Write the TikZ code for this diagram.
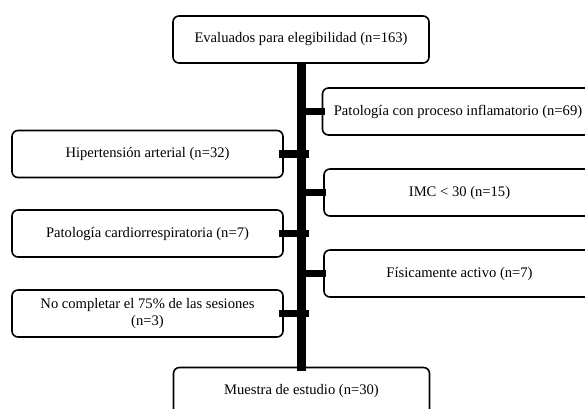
\documentclass[tikz,border=0pt]{standalone}
\usepackage{fontspec}
\setmainfont{Liberation Serif}
\usetikzlibrary{positioning}

\begin{document}
\begin{tikzpicture}[
  x=1pt, y=-1pt,
  box/.style={rectangle, draw, rounded corners=6pt, line width=1.6pt, fill=white, minimum width=271pt, minimum height=47pt, font=\fontsize{14.6}{16.5}\selectfont, align=center, inner sep=2pt},
  endbox/.style={box, minimum width=256pt},
  stub/.style={line width=7.5pt},
  spinebar/.style={line width=9pt}
]
\clip (0,0) rectangle (585,408);

% Start and end
\node[endbox] (eval) at (301,39.5) {Evaluados para elegibilidad (n=163)};
\node[endbox] (muestra) at (301.5,391) {Muestra de estudio (n=30)};
\coordinate (spine) at (301.5,0);
\coordinate (spineend) at (301.5,371);

% Exclusions (right)
\node[box] (inflam) at (458,111.5) {Patología con proceso inflamatorio (n=69)};
\node[box] (imc) at (459.5,192.5) {IMC < 30 (n=15)};
\node[box] (activo) at (459.5,273.5) {Físicamente activo (n=7)};

% Exclusions (left)
\node[box] (hta) at (147.5,154) {Hipertensión arterial (n=32)};
\node[box] (cardio) at (147.5,233.5) {Patología cardiorrespiratoria (n=7)};
\node[box] (sesiones) at (147.5,313.5) {No completar el 75\% de las sesiones\\(n=3)};

% Edges
\draw[spinebar] (eval.south -| spine) -- (spineend);

\draw[stub] ([xshift=-3.5pt]inflam.west -| spine) -- ([xshift=3pt]inflam.west);
\draw[stub] ([xshift=-3.5pt]imc.west -| spine) -- ([xshift=3pt]imc.west);
\draw[stub] ([xshift=-3.5pt]activo.west -| spine) -- ([xshift=3pt]activo.west);

\draw[stub] ([xshift=-5pt]hta.east) -- ([xshift=7.5pt]hta.east -| spine);
\draw[stub] ([xshift=-5pt]cardio.east) -- ([xshift=7.5pt]cardio.east -| spine);
\draw[stub] ([xshift=-5pt]sesiones.east) -- ([xshift=7.5pt]sesiones.east -| spine);

\end{tikzpicture}
\end{document}
